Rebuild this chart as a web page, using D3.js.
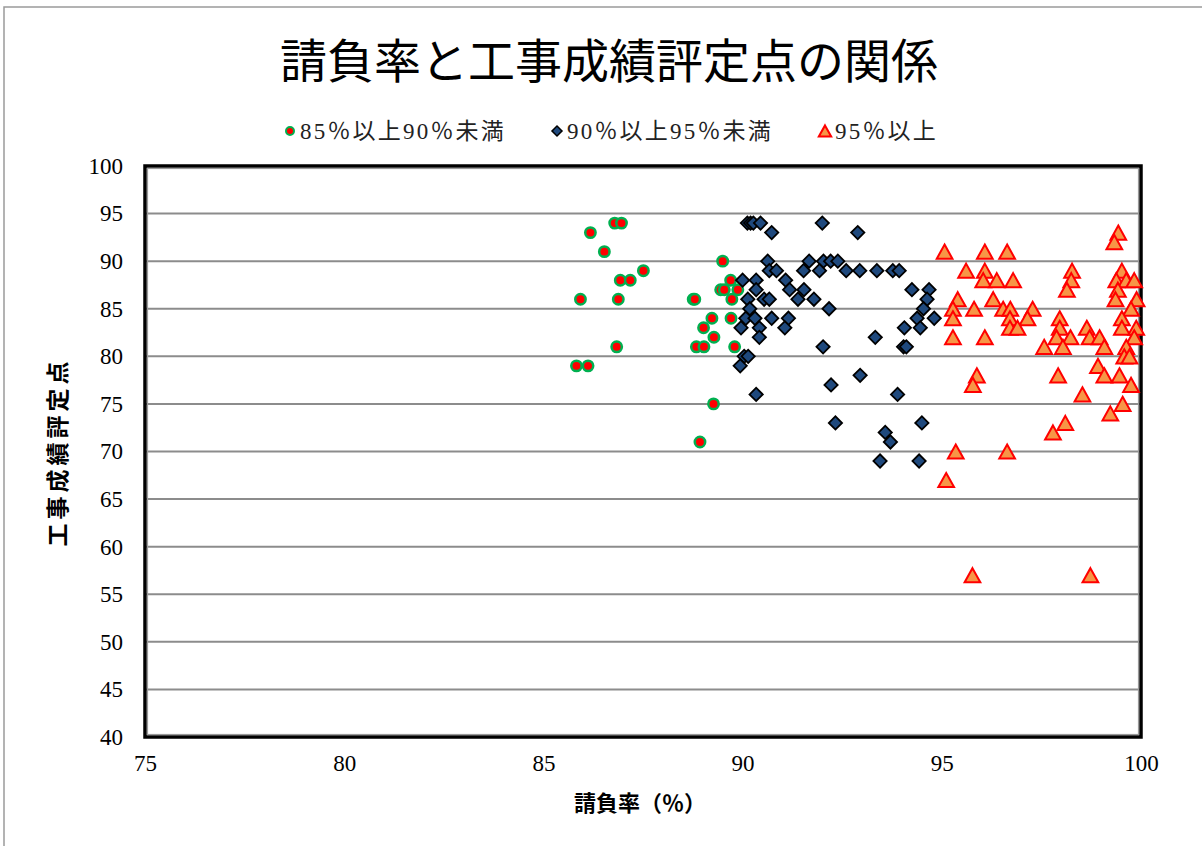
<!DOCTYPE html>
<html>
<head>
<meta charset="utf-8">
<script src="https://cdn.jsdelivr.net/npm/d3@7"></script>
<style>
  body { margin: 0; background: #fff; }
  text { font-family: "Liberation Serif", "Noto Sans CJK JP", serif; }
</style>
</head>
<body>
<div class="chart"></div>
<script>
// 85%以上90%未満
const greenX = [85.83, 86.12, 85.93, 86.18, 86.53, 86.79, 86.96, 86.88, 86.93, 87.18, 87.51, 86.84,
  88.76, 88.80, 88.84, 89.03, 88.93, 89.27, 89.02, 89.23, 89.28, 89.50, 89.45, 89.54, 89.88, 89.70,
  89.73, 89.71, 89.80];
const greenY = [79, 79, 86, 93, 91, 94, 94, 86, 88, 88, 89, 81,
  86, 86, 81, 81, 71, 75, 83, 84, 82, 90, 87, 87, 87, 88,
  86, 84, 81];

// 90%以上95%未満
const blueX = [90.12, 90.20, 90.27, 90.45, 92.00,
  90.73, 92.89,
  90.63, 91.67, 92.03, 92.21, 92.39,
  90.67, 90.85, 91.53, 91.93, 92.60, 92.94, 93.37, 93.77, 93.93,
  90.00, 90.34, 91.08,
  90.34, 91.18, 91.54, 94.25, 94.68,
  90.13, 90.54, 90.67, 91.39, 91.79, 94.63,
  90.18, 92.17, 94.54,
  90.08, 90.31, 90.73, 91.15, 94.38, 94.81,
  89.96, 90.42, 91.06, 94.06, 94.46,
  90.42, 93.33,
  92.02, 94.04, 94.11,
  90.04, 90.14,
  89.94, 92.95, 92.22,
  90.34, 93.89,
  92.33, 94.50,
  93.58, 93.71,
  93.45, 94.43];
const blueY = [94, 94, 94, 94, 94,
  93, 93,
  90, 90, 90, 90, 90,
  89, 89, 89, 89, 89, 89, 89, 89, 89,
  88, 88, 88,
  87, 87, 87, 87, 87,
  86, 86, 86, 86, 86, 86,
  85, 85, 85,
  84, 84, 84, 84, 84, 84,
  83, 83, 83, 83, 83,
  82, 82,
  81, 81, 81,
  80, 80,
  79, 78, 77,
  76, 76,
  73, 73,
  72, 71,
  69, 69];

// 95%以上
const orangeX = [99.43, 99.33,
  95.07, 96.08, 96.64,
  95.61, 96.08, 98.27, 99.52,
  96.04, 96.38, 96.79, 98.25, 99.38, 99.63, 99.83,
  98.14, 99.42,
  95.40, 96.29, 99.36, 99.89,
  95.28, 95.81, 96.54, 96.72, 97.28, 99.75,
  95.28, 96.71, 97.15, 97.96, 99.52,
  96.71, 96.90, 97.96, 98.64, 99.52, 99.88,
  95.28, 96.08, 97.88, 98.23, 98.71, 98.96, 99.83,
  97.57, 98.04, 99.08, 99.63,
  99.58, 99.71,
  98.92,
  95.88, 97.92, 99.08, 99.46,
  95.78, 99.75,
  98.53, 99.54, 99.23, 98.10, 97.79,
  95.35, 96.64,
  95.11,
  95.77, 98.73];
const orangeY = [93, 92,
  91, 91, 91,
  89, 89, 89, 89,
  88, 88, 88, 88, 88, 88, 88,
  87, 87,
  86, 86, 86, 86,
  85, 85, 85, 85, 85, 85,
  84, 84, 84, 84, 84,
  83, 83, 83, 83, 83, 83,
  82, 82, 82, 82, 82, 82, 82,
  81, 81, 81, 81,
  80, 80,
  79,
  78, 78, 78, 78,
  77, 77,
  76, 75, 74, 73, 72,
  70, 70,
  67,
  57, 57];

const xTicks = [75, 80, 85, 90, 95, 100];
const yTicks = [40, 45, 50, 55, 60, 65, 70, 75, 80, 85, 90, 95, 100];

const seriesNames = ['85％以上90％未満', '90％以上95％未満', '95％以上'];
const titleText = '請負率と工事成績評定点の関係';
const xTitle = '請負率（％）';
const yTitle = '工事成績評定点';

const width = 1202;
const height = 846;
const plotLeft = 145, plotRight = 1141, plotTop = 166, plotBottom = 737;

const svg = d3.select('.chart').append('svg')
  .attr('width', width)
  .attr('height', height);

// chart frame
svg.append('rect')
  .attr('x', 4).attr('y', 7)
  .attr('width', width + 10).attr('height', height + 10)
  .attr('fill', '#fff')
  .attr('stroke', '#9a9a9a')
  .attr('stroke-width', 1.5);

const x = d3.scaleLinear().domain([75, 100]).range([plotLeft, plotRight]);
const y = d3.scaleLinear().domain([40, 100]).range([plotBottom, plotTop]);

// gridlines
svg.append('g')
  .selectAll('line')
  .data(yTicks.filter(d => d > 40 && d < 100))
  .enter().append('line')
  .attr('x1', plotLeft).attr('x2', plotRight)
  .attr('y1', d => y(d)).attr('y2', d => y(d))
  .attr('stroke', '#8c8c8c')
  .attr('stroke-width', 2);

// y axis labels
const yAxis = svg.append('g')
  .attr('transform', 'translate(' + (plotLeft - 8) + ',0)')
  .call(d3.axisLeft(y).tickValues(yTicks).tickSize(0).tickPadding(14));
yAxis.select('.domain').remove();
yAxis.selectAll('text')
  .attr('font-size', 23)
  .attr('font-family', '"Liberation Serif", serif')
  .attr('fill', '#000');

// x axis labels
const xAxis = svg.append('g')
  .attr('transform', 'translate(0,' + (plotBottom + 14) + ')')
  .call(d3.axisBottom(x).tickValues(xTicks).tickSize(0).tickPadding(4));
xAxis.select('.domain').remove();
xAxis.selectAll('text')
  .attr('font-size', 23)
  .attr('font-family', '"Liberation Serif", serif')
  .attr('fill', '#000');

// plot border (thick black with grey inner line)
svg.append('rect')
  .attr('x', plotLeft).attr('y', plotTop)
  .attr('width', plotRight - plotLeft).attr('height', plotBottom - plotTop)
  .attr('fill', 'none')
  .attr('stroke', '#000')
  .attr('stroke-width', 3.5);
svg.append('rect')
  .attr('x', plotLeft + 2.5).attr('y', plotTop + 2.5)
  .attr('width', plotRight - plotLeft - 5).attr('height', plotBottom - plotTop - 5)
  .attr('fill', 'none')
  .attr('stroke', '#9a9a9a')
  .attr('stroke-width', 1.2);

// triangle centred on its bounding box
const boxTriangle = {
  draw(ctx, size) {
    const w = Math.sqrt(size * 2 * 1.1);
    const h = w * 0.9;
    ctx.moveTo(0, -h / 2);
    ctx.lineTo(w / 2, h / 2);
    ctx.lineTo(-w / 2, h / 2);
    ctx.closePath();
  }
};

const plot = svg.append('g');

// green circles
plot.append('g')
  .selectAll('circle')
  .data(d3.zip(greenX, greenY))
  .enter().append('circle')
  .attr('cx', d => x(d[0]))
  .attr('cy', d => y(d[1]))
  .attr('r', 5.2)
  .attr('fill', '#ff0000')
  .attr('stroke', '#00b050')
  .attr('stroke-width', 2.5);

// blue diamonds
plot.append('g')
  .selectAll('path')
  .data(d3.zip(blueX, blueY))
  .enter().append('path')
  .attr('d', d3.symbol().type(d3.symbolSquare).size(88))
  .attr('transform', d => 'translate(' + x(d[0]) + ',' + y(d[1]) + ') rotate(45)')
  .attr('fill', '#1f497d')
  .attr('stroke', '#000')
  .attr('stroke-width', 1.8);

// orange triangles
plot.append('g')
  .selectAll('path')
  .data(d3.zip(orangeX, orangeY))
  .enter().append('path')
  .attr('d', d3.symbol().type(boxTriangle).size(112))
  .attr('transform', d => 'translate(' + x(d[0]) + ',' + y(d[1]) + ')')
  .attr('fill', '#f79646')
  .attr('stroke', '#ff0000')
  .attr('stroke-width', 2);

// title
svg.append('text')
  .attr('x', 609)
  .attr('y', 62)
  .attr('text-anchor', 'middle')
  .attr('dominant-baseline', 'central')
  .attr('font-family', '"Noto Sans CJK JP", sans-serif')
  .attr('font-size', 47)
  .text(titleText);

// legend
const legendItems = [
  { mx: 290, tx: 300, name: seriesNames[0] },
  { mx: 557, tx: 567, name: seriesNames[1] },
  { mx: 825, tx: 835, name: seriesNames[2] }
];
const ly = 131;
const legend = svg.append('g');
legend.append('circle')
  .attr('cx', legendItems[0].mx).attr('cy', ly)
  .attr('r', 4)
  .attr('fill', '#ff0000')
  .attr('stroke', '#00b050')
  .attr('stroke-width', 2);
legend.append('path')
  .attr('d', d3.symbol().type(d3.symbolSquare).size(50))
  .attr('transform', 'translate(' + legendItems[1].mx + ',' + ly + ') rotate(45)')
  .attr('fill', '#1f497d')
  .attr('stroke', '#000')
  .attr('stroke-width', 1.5);
legend.append('path')
  .attr('d', d3.symbol().type(boxTriangle).size(70))
  .attr('transform', 'translate(' + legendItems[2].mx + ',' + ly + ')')
  .attr('fill', '#f79646')
  .attr('stroke', '#ff0000')
  .attr('stroke-width', 2);
legend.selectAll('text')
  .data(legendItems)
  .enter().append('text')
  .attr('x', d => d.tx)
  .attr('y', ly)
  .attr('dominant-baseline', 'central')
  .attr('font-size', 23)
  .attr('letter-spacing', 2.2)
  .attr('fill', '#222')
  .text(d => d.name);

// axis titles
svg.append('text')
  .attr('x', 640)
  .attr('y', 803)
  .attr('text-anchor', 'middle')
  .attr('dominant-baseline', 'central')
  .attr('font-family', '"Noto Sans CJK JP", sans-serif')
  .attr('font-weight', 'bold')
  .attr('font-size', 22)
  .text(xTitle);

svg.append('text')
  .attr('transform', 'translate(58,452) rotate(-90)')
  .attr('text-anchor', 'middle')
  .attr('dominant-baseline', 'central')
  .attr('font-family', '"Noto Sans CJK JP", sans-serif')
  .attr('font-weight', 'bold')
  .attr('font-size', 23)
  .attr('letter-spacing', 4)
  .text(yTitle);
</script>
</body>
</html>
